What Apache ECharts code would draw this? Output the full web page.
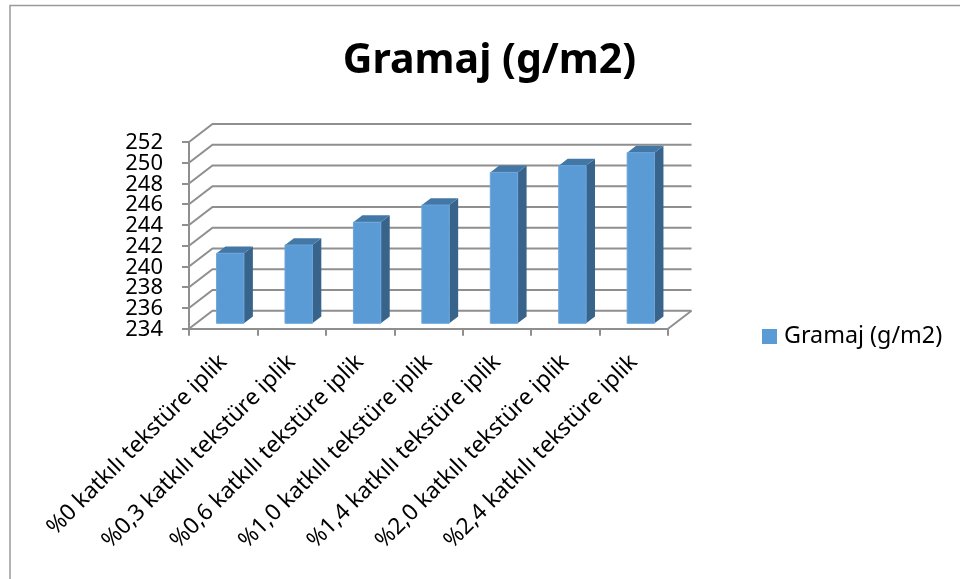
<!DOCTYPE html>
<html><head><meta charset="utf-8">
<style>html,body{margin:0;padding:0;background:#fff}#c{width:960px;height:579px}</style>
<script src="https://cdn.jsdelivr.net/npm/echarts@6/dist/echarts.min.js"></script>
</head><body><div id="c"></div>
<script>
const categories = ['%0 katkılı tekstüre iplik','%0,3 katkılı tekstüre iplik','%0,6 katkılı tekstüre iplik','%1,0 katkılı tekstüre iplik','%1,4 katkılı tekstüre iplik','%2,0 katkılı tekstüre iplik','%2,4 katkılı tekstüre iplik'];
const values = [240.75,241.55,243.75,245.4,248.55,249.2,250.45];
const seriesName = 'Gramaj (g/m2)';
const yTicks = [234,236,238,240,242,244,246,248,250,252];
const DX = 23.5, DY = -18, FRONT = 0.3, BACK = 0.68;
const GRID = '#8f8f8f', FONT = '"Noto Sans", sans-serif';
const chart = echarts.init(document.getElementById('c'), null, {renderer:'canvas'});
function wall(params, api){
  const v = api.value(0);
  const halfBand = api.size([1,0])[0]/2;
  const left = api.coord([0,v]);
  const right = api.coord([categories.length-1,v]);
  const x0 = left[0]-halfBand, x1 = right[0]+halfBand, y = left[1];
  const style = {stroke:GRID, lineWidth:2, fill:null};
  const children = [
    {type:'polyline',shape:{points:[[x0,y],[x0+DX,y+DY],[x1+DX,y+DY]]},style},
    {type:'text',style:{text:String(v),x:x0-26,y:y+1,align:'right',verticalAlign:'middle',fontFamily:FONT,fontSize:22,fill:'#000'}}
  ];
  if (params.dataIndex===0) children.push({type:'line',shape:{x1:x1,y1:y,x2:x1+DX,y2:y+DY},style});
  return {type:'group',children};
}
function bar3d(params, api){
  const i = api.value(0), v = api.value(1);
  const top = api.coord([i,v]), base = api.coord([i,yTicks[0]]);
  const w = api.size([1,0])[0]*0.4;
  const xl = top[0]-w/2+DX*FRONT, xr = xl+w;
  const yt = top[1]+DY*FRONT, yb = base[1]+DY*FRONT;
  const dx = DX*(BACK-FRONT), dy = DY*(BACK-FRONT);
  return {type:'group',children:[
    {type:'polygon',shape:{points:[[xr,yt],[xr+dx,yt+dy],[xr+dx,yb+dy],[xr,yb]]},style:{fill:'#38648c'}},
    {type:'polygon',shape:{points:[[xl,yt],[xl+dx,yt+dy],[xr+dx,yt+dy],[xr,yt]]},style:{fill:'#4277a6'}},
    {type:'rect',shape:{x:xl,y:yt,width:w,height:yb-yt},style:{fill:'#5b9bd5',stroke:'#6ba5da',lineWidth:1}}
  ]};
}
chart.setOption({
  animation:false,
  backgroundColor:'#fff',
  title:{text:seriesName,left:484.5,top:36,textAlign:'center',textStyle:{fontFamily:FONT,fontSize:41,fontWeight:'bold',color:'#000'}},
  legend:{data:[seriesName],left:757,top:320,itemWidth:15,itemHeight:15,itemGap:10,icon:'rect',textStyle:{fontFamily:FONT,fontSize:23.3,color:'#000',padding:[0,0,0,2]}},
  grid:{left:189,top:142,width:479,height:186.7,containLabel:false},
  xAxis:{type:'category',data:categories,
    axisLine:{lineStyle:{color:GRID,width:2}},
    axisTick:{show:true,length:7,alignWithLabel:false,lineStyle:{color:GRID,width:2}},
    axisLabel:{rotate:45,interval:0,margin:30,fontFamily:FONT,fontSize:22.7,color:'#000'},
    splitLine:{show:false}},
  yAxis:{type:'value',min:234,max:252,interval:2,
    axisLine:{show:true,lineStyle:{color:GRID,width:2}},
    axisTick:{show:true,length:7,lineStyle:{color:GRID,width:2}},
    axisLabel:{show:false},
    splitLine:{show:false}},
  graphic:[
    {type:'polyline',silent:true,shape:{points:[[10,579],[10,5.5],[960,5.5]]},style:{stroke:'#9a9a9a',lineWidth:1.5,fill:null}}
  ],
  series:[
    {type:'custom',name:'wall',silent:true,z:1,renderItem:wall,data:yTicks.map(v=>[v]),encode:{y:0}},
    {type:'custom',name:seriesName,z:2,renderItem:bar3d,itemStyle:{color:'#5b9bd5'},
     data:values.map((v,i)=>[i,v]),encode:{x:0,y:1}}
  ]
});
</script></body></html>
